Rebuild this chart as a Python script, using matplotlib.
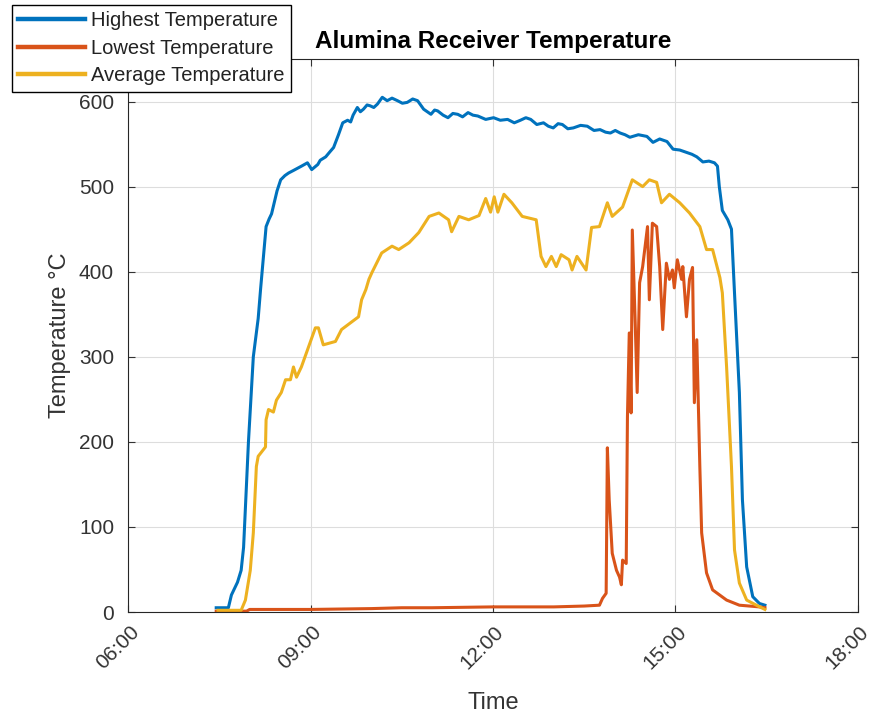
import matplotlib
matplotlib.use("Agg")
import matplotlib.pyplot as plt
from matplotlib.transforms import ScaledTranslation

plt.rcParams['font.family'] = ['Liberation Sans', 'DejaVu Sans']

# ---- data (time in decimal hours, temperature in °C) ----
t_high = [7.45, 7.65, 7.70, 7.80, 7.86, 7.90, 7.98, 8.06, 8.14, 8.18, 8.27, 8.32, 8.36, 8.45, 8.51,
          8.58, 8.64, 8.72, 8.85, 8.95, 9.02, 9.12, 9.16, 9.25, 9.32, 9.38, 9.46, 9.53, 9.61, 9.66,
          9.70, 9.77, 9.82, 9.87, 9.93, 9.98, 10.04, 10.10, 10.18, 10.26, 10.34, 10.43, 10.51, 10.59,
          10.68, 10.76, 10.86, 10.98, 11.04, 11.09, 11.18, 11.26, 11.34, 11.42, 11.50, 11.59, 11.67,
          11.75, 11.88, 12.01, 12.12, 12.24, 12.35, 12.45, 12.54, 12.62, 12.72, 12.83, 12.91, 12.99,
          13.07, 13.14, 13.23, 13.32, 13.44, 13.55, 13.66, 13.76, 13.85, 13.93, 14.01, 14.09, 14.17,
          14.25, 14.39, 14.53, 14.63, 14.74, 14.86, 14.96, 15.07, 15.19, 15.27, 15.35, 15.45, 15.55,
          15.64, 15.69, 15.72, 15.77, 15.86, 15.92, 15.97, 16.05, 16.10, 16.17, 16.27, 16.38, 16.47]
v_high = [5, 5, 20, 35, 49, 76, 200, 300, 345, 380, 453, 462, 468, 495, 508,
          513, 516, 519, 524, 528, 520, 526, 531, 535, 541, 546, 561, 575, 578, 576,
          584, 593, 588, 591, 596, 595, 593, 597, 605, 601, 604, 601, 598, 599,
          603, 601, 591, 585, 590, 589, 584, 581, 586, 585, 582, 587, 584,
          583, 579, 581, 578, 579, 575, 578, 581, 579, 573, 575, 571, 569,
          574, 573, 568, 569, 572, 571, 566, 567, 564, 563, 566, 563, 561,
          558, 561, 559, 552, 556, 553, 544, 543, 540, 538, 535, 529, 530,
          528, 524, 500, 472, 461, 450, 375, 258, 132, 53, 18, 10, 8]

t_low = [7.45, 7.95, 8.00, 9.00, 10.00, 10.50, 11.00, 12.00, 13.00, 13.50, 13.75, 13.80, 13.86,
         13.88, 13.91, 13.96, 14.03, 14.08, 14.11, 14.13, 14.19, 14.21, 14.24, 14.27, 14.29, 14.34,
         14.37, 14.41, 14.46, 14.54, 14.57, 14.62, 14.69, 14.74, 14.79, 14.85, 14.90, 14.95, 14.98,
         15.03, 15.10, 15.12, 15.18, 15.23, 15.28, 15.31, 15.35, 15.40, 15.43, 15.51, 15.61, 15.84,
         16.05, 16.38, 16.47]
v_low = [1, 1, 3, 3, 4, 5, 5, 6, 6, 7, 8, 16, 22,
         193, 132, 69, 49, 41, 32, 61, 57, 229, 328, 234, 449, 334,
         258, 387, 406, 453, 367, 457, 453, 406, 332, 410, 391, 402, 381,
         414, 391, 406, 347, 391, 405, 246, 320, 171, 93, 46, 26, 14,
         8, 6, 5]

t_avg = [7.48, 7.86, 7.93, 8.01, 8.06, 8.11, 8.14, 8.26, 8.27, 8.31, 8.39, 8.44, 8.52, 8.59, 8.67,
         8.72, 8.77, 8.85, 8.97, 9.08, 9.13, 9.21, 9.41, 9.51, 9.79, 9.84, 9.91, 9.96, 10.01, 10.17,
         10.34, 10.45, 10.62, 10.78, 10.95, 11.11, 11.27, 11.32, 11.44, 11.60, 11.77, 11.88, 11.96,
         12.02, 12.08, 12.18, 12.31, 12.48, 12.71, 12.79, 12.87, 12.96, 13.04, 13.12, 13.25, 13.30,
         13.38, 13.53, 13.62, 13.75, 13.88, 13.96, 14.13, 14.29, 14.46, 14.57, 14.69, 14.77, 14.90,
         15.07, 15.23, 15.40, 15.51, 15.61, 15.73, 15.77, 15.84, 15.92, 15.97, 16.05, 16.17, 16.33,
         16.47]
v_avg = [2, 2, 14, 49, 93, 171, 183, 194, 226, 238, 235, 249, 258, 273, 273,
         288, 276, 288, 312, 334, 334, 314, 318, 332, 347, 367, 379, 391, 399, 422,
         430, 426, 434, 446, 465, 469, 461, 447, 465, 461, 466, 486, 470,
         488, 470, 491, 481, 465, 461, 418, 406, 418, 406, 420, 414, 402,
         418, 402, 452, 453, 481, 465, 476, 508, 500, 508, 505, 481, 491,
         481, 469, 453, 426, 426, 393, 375, 288, 171, 73, 34, 14, 8,
         3]

series_labels = ['Highest Temperature', 'Lowest Temperature', 'Average Temperature']
x_ticks = [6, 9, 12, 15, 18]
x_tick_labels = ['06:00', '09:00', '12:00', '15:00', '18:00']
y_ticks = [0, 100, 200, 300, 400, 500, 600]

colors = ['#0072BD', '#D95319', '#EDB120']
txt = '#333333'

fig = plt.figure(figsize=(8.74, 7.15), dpi=100)
ax = fig.add_axes([128/874, 1 - 612/715, (858-128)/874, (612-59)/715])

lw = 2.2
l1, = ax.plot(t_high, v_high, color=colors[0], lw=lw, label=series_labels[0])
l2, = ax.plot(t_low, v_low, color=colors[1], lw=lw, label=series_labels[1])
l3, = ax.plot(t_avg, v_avg, color=colors[2], lw=lw, label=series_labels[2])

ax.set_xlim(6, 18)
ax.set_ylim(0, 650)
ax.set_xticks(x_ticks)
ax.set_xticklabels(x_tick_labels, rotation=45, ha='right', va='center', rotation_mode='anchor')
ax.set_yticks(y_ticks)
ax.grid(True, color='#dddddd', linewidth=0.8)
ax.set_axisbelow(True)
ax.tick_params(direction='in', length=5, labelsize=15, colors=txt, top=True, right=True,
               labeltop=False, labelright=False)
ax.tick_params(axis='x', pad=12)
ax.tick_params(axis='y', pad=10)
offset = ScaledTranslation(8/100, 0, fig.dpi_scale_trans)
for lab in ax.get_xticklabels():
    lab.set_transform(lab.get_transform() + offset)
for s in ax.spines.values():
    s.set_color('#262626')
    s.set_linewidth(0.8)

ax.set_xlabel('Time', fontsize=17, color=txt, labelpad=14)
ax.set_ylabel('Temperature °C', fontsize=17, color=txt, labelpad=6)
ax.set_title('Alumina Receiver Temperature', fontsize=17.5, fontweight='bold', pad=8)

leg = fig.legend(handles=[l1, l2, l3], loc='upper left', bbox_to_anchor=(12/874, 1 - 5/715),
                 bbox_transform=fig.transFigure, borderaxespad=0, fontsize=14.5,
                 handlelength=3.3, handletextpad=0.3, labelspacing=0.42, borderpad=0.32,
                 fancybox=False, framealpha=1, edgecolor='black')
leg.get_frame().set_linewidth(1.0)
for t in leg.get_texts():
    t.set_color('#222222')
for line in leg.get_lines():
    line.set_linewidth(3.2)

fig.savefig('out.png', dpi=100)
